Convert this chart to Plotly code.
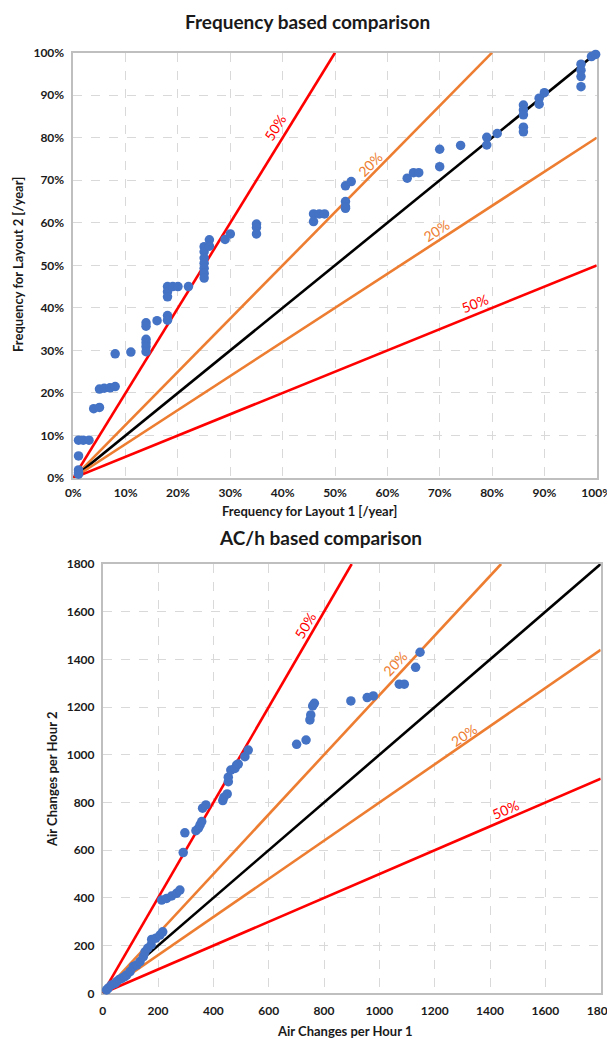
import plotly.graph_objects as go

# ---------------- data ----------------
# Top chart: frequency (%)
freq_layout1 = [1, 1, 1, 1, 1, 1.9, 3, 3.9, 5, 5, 5.9, 7, 8, 8, 11,
                13.9, 13.9, 13.9, 13.9, 13.9, 13.9, 16, 18, 18,
                18, 18, 18, 19, 20, 22,
                25, 25, 25, 25, 25, 25, 25, 26, 26, 29, 30,
                35, 35, 35, 45.9, 45.9, 47, 48,
                52, 52, 52, 52, 53.1, 63.8, 65, 66,
                70, 70, 74, 79, 79, 81,
                86, 86, 86, 86, 86, 89, 89, 90,
                97, 97, 97, 97, 99, 99.8]
freq_layout2 = [1.9, 1.3, 0.9, 5.2, 8.9, 8.9, 8.9, 16.3, 16.6, 20.9, 21.1, 21.2, 21.5, 29.2, 29.6,
                36.5, 35.7, 32.6, 31.8, 30.9, 29.7, 37, 38.2, 37.1,
                45, 43.8, 42.6, 45, 45, 45,
                54.4, 53.2, 51.7, 50.5, 49.3, 48.1, 47, 56, 54.5, 56.1, 57.4,
                59.7, 58.9, 57.4, 62.1, 60.3, 62.1, 62.1,
                65, 63.8, 63.4, 68.7, 69.7, 70.5, 71.8, 71.8,
                77.3, 73.2, 78.2, 80.1, 78.3, 81,
                87.7, 86.5, 85.4, 82.5, 81.4, 89.3, 87.9, 90.6,
                97.3, 95.9, 94.4, 92, 99.1, 99.6]

# Bottom chart: air changes per hour
ach_1 = [14, 20, 32, 45, 51, 60, 69, 80, 87, 99, 111, 123, 135, 147, 153, 163, 175, 177, 192, 207, 217,
         213, 231, 249, 267, 279,
         291, 297, 337, 346, 352, 358, 361, 373,
         434, 438, 450, 454, 454, 463, 478, 484, 490, 514, 526,
         701, 735, 749, 752, 759, 765,
         897, 956, 978, 1072, 1090, 1131, 1147]
ach_2 = [14, 22, 35, 42, 49, 58, 63, 70, 77, 91, 112, 119, 133, 154, 174, 189, 203, 226, 231, 244, 258,
         391, 398, 408, 419, 433,
         590, 673, 682, 692, 706, 720, 776, 790,
         808, 822, 836, 887, 906, 936, 943, 957, 961, 992, 1020,
         1044, 1062, 1146, 1167, 1205, 1216,
         1226, 1240, 1247, 1296, 1296, 1367, 1430]

# reference lines: ratio layout2/layout1
line_ratios = [2.0, 1.25, 1.0, 0.8, 0.5]
line_colors = ["#FF0000", "#ED7D31", "#000000", "#ED7D31", "#FF0000"]
line_labels = ["50%", "20%", None, "20%", "50%"]

top_max = 100
bot_max = 1800
top_ticks = list(range(0, 101, 10))
bot_ticks = list(range(0, 1801, 200))

# label anchor positions (data coords) for the line labels
top_label_pos = [(38.5, 82.5), (56.7, 73.6), None, (69.4, 58.1), (76.6, 41.1)]
bot_label_pos = [(731, 1544), (1056, 1384), None, (1303, 1083), (1456, 769)]
top_label_angle = [-58, -45, None, -33, -22]
bot_label_angle = [-60, -47, None, -35, -23]

# page geometry: the page body has an 8px margin, so the figure starts at (8, 8)
W, H, OFF = 615, 1039, 8
FW, FH = W - OFF, H - OFF

def px(xp):
    return (xp - OFF) / FW

def py(yp):
    return 1 - (yp - OFF) / FH

FONT = "Lato"
TXT = "#1a1a1a"
fig = go.Figure()

def add_lines(xa, ya, vmax):
    for r, c in zip(line_ratios, line_colors):
        xe = min(vmax, vmax / r)
        fig.add_trace(go.Scatter(x=[0, xe], y=[0, xe * r], mode="lines",
                                 line=dict(color=c, width=2.6),
                                 xaxis=xa, yaxis=ya, showlegend=False, hoverinfo="skip"))

add_lines("x", "y", top_max)
fig.add_trace(go.Scatter(x=freq_layout1, y=freq_layout2, mode="markers",
                         marker=dict(color="#4472C4", size=9.5), cliponaxis=False,
                         xaxis="x", yaxis="y", showlegend=False))
add_lines("x2", "y2", bot_max)
fig.add_trace(go.Scatter(x=ach_1, y=ach_2, mode="markers",
                         marker=dict(color="#4472C4", size=9.5), cliponaxis=False,
                         xaxis="x2", yaxis="y2", showlegend=False))

annos = []
for pos, ang, lab, col in zip(top_label_pos, top_label_angle, line_labels, line_colors):
    if lab:
        annos.append(dict(x=pos[0], y=pos[1], xref="x", yref="y", text=lab, textangle=ang,
                          showarrow=False, font=dict(family=FONT, size=14, color=col)))
for pos, ang, lab, col in zip(bot_label_pos, bot_label_angle, line_labels, line_colors):
    if lab:
        annos.append(dict(x=pos[0], y=pos[1], xref="x2", yref="y2", text=lab, textangle=ang,
                          showarrow=False, font=dict(family=FONT, size=14, color=col)))

def paper_text(text, xp, yp, size, angle=0):
    annos.append(dict(x=px(xp), y=py(yp), xref="paper", yref="paper", text=text, textangle=angle,
                      showarrow=False, xanchor="center", yanchor="middle",
                      font=dict(family=FONT, size=size, color=TXT)))

# titles and axis titles
paper_text("<b>Frequency based comparison</b>", 307, 22, 19)
paper_text("<b>AC/h based comparison</b>", 320, 537, 19)
paper_text("<b>Frequency for Layout 1 [/year]</b>", 309, 511, 13)
paper_text("<b>Frequency for Layout 2 [/year]</b>", 18, 265, 13, -90)
paper_text("<b>Air Changes per Hour 1</b>", 345, 1031, 13)
paper_text("<b>Air Changes per Hour 2</b>", 52, 780, 13, -90)

axis_common = dict(showgrid=True, griddash="dash", gridcolor="#d9d9d9", gridwidth=1,
                   showline=True, linecolor="#bfbfbf", linewidth=1.5, mirror=True,
                   zeroline=False, ticks="", automargin=False, layer="below traces",
                   tickfont=dict(family=FONT, size=12, color=TXT))

fig.update_layout(
    width=FW, height=FH,
    margin=dict(l=0, r=0, t=0, b=0),
    paper_bgcolor="white", plot_bgcolor="white",
    font=dict(family=FONT),
    xaxis=dict(domain=[px(73.3), px(596.7)], range=[0, top_max], tickvals=top_ticks,
               ticktext=[f"<b>{v}%</b>" for v in top_ticks], anchor="y",
               ticklabelstandoff=3, **axis_common),
    yaxis=dict(domain=[py(478), py(52.7)], range=[0, top_max], tickvals=top_ticks,
               ticktext=[f"<b>{v}%</b>" for v in top_ticks], anchor="x",
               ticklabelstandoff=5, **axis_common),
    xaxis2=dict(domain=[px(102.7), px(600.7)], range=[0, bot_max], tickvals=bot_ticks,
                ticktext=[f"<b>{v}</b>" for v in bot_ticks], anchor="y2",
                ticklabelstandoff=6, **axis_common),
    yaxis2=dict(domain=[py(993.3), py(564)], range=[0, bot_max], tickvals=bot_ticks,
                ticktext=[f"<b>{v}</b>" for v in bot_ticks], anchor="x2",
                ticklabelstandoff=4, **axis_common),
    annotations=annos,
)

fig.write_html("out.html")
